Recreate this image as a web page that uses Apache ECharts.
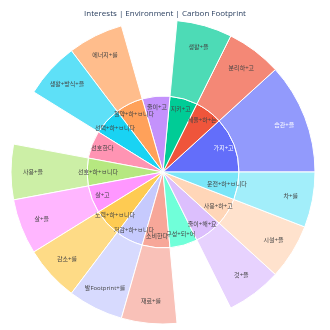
<!DOCTYPE html>
<html><head><meta charset="utf-8">
<script src="https://cdn.jsdelivr.net/npm/echarts@6/dist/echarts.min.js"></script>
<style>html,body{margin:0;padding:0;background:#fff}#c{width:330px;height:330px}</style>
</head><body><div id="c"></div>
<script>
const titleText = 'Interests | Environment | Carbon Footprint';
const innerLabels = ['가지+고','세울+하+는','지키+고','줄이+고','절약+하+ㅂ니다','선택+하+ㅂ니다','선호한다','선호+하+ㅂ니다','살+고','노력+하+ㅂ니다','저감+하+ㅂ니다','소비한다','구성+되+어','줄이+해+요','사용+하+고','운전+하+ㅂ니다'];
const innerValues = [2,1,1,1,1,1,1,1,1,1,1,1,1,1,1,1];
const outerLabels = ['습관+을','분리하+고','생활+을',null,'에너지+를','생활+방식+을',null,'사용+을','살+을','감소+를','발Footprint+를','재료+를',null,'것+을','시설+을','차+를'];
const sliceColors = ['#636efa','#ef553b','#00cc96','#ab63fa','#ffa15a','#19d3f3','#ff6692','#b6e880','#ff97ff','#fecb52','#c6cafd','#f7a799','#33ffc9','#dcbffd','#ffd6b8','#7ae6f8'];
const whiteText = ['가지+고','습관+을'];

function leafMix(hex, a) {
  const n = parseInt(hex.slice(1), 16);
  const c = [(n >> 16) & 255, (n >> 8) & 255, n & 255].map(v => Math.round(v * a + 255 * (1 - a)));
  return 'rgb(' + c.join(',') + ')';
}
const FONT = '"Open Sans", "Noto Sans CJK KR", sans-serif';

function build(forLabels) {
  return innerLabels.map((name, i) => {
    const hasChild = outerLabels[i] != null;
    const col = hasChild ? sliceColors[i] : leafMix(sliceColors[i], 0.7);
    const node = {
      name: name, value: innerValues[i],
      itemStyle: forLabels ? {color: 'rgba(0,0,0,0)', borderWidth: 0} : {color: col},
      label: {color: whiteText.includes(name) ? '#fff' : '#444'}
    };
    if (hasChild) {
      const cn = outerLabels[i];
      node.children = [{
        name: cn, value: innerValues[i],
        itemStyle: forLabels ? {color: 'rgba(0,0,0,0)', borderWidth: 0} : {color: leafMix(sliceColors[i], 0.7)},
        label: {color: whiteText.includes(cn) ? '#fff' : '#444'}
      }];
    }
    return node;
  });
}

const chart = echarts.init(document.getElementById('c'), null, {renderer: 'canvas'});
chart.setOption({
  animation: false,
  title: {text: titleText, left: 'center', top: 5, textStyle: {fontSize: 8, fontWeight: 'normal', color: '#2a3f5f', fontFamily: FONT}},
  series: [
    {
      type: 'sunburst', center: [163, 172], radius: [0, 152], startAngle: 0, clockwise: false, sort: null,
      nodeClick: false, silent: true, emphasis: {disabled: true},
      itemStyle: {borderColor: '#fff', borderWidth: 1},
      label: {show: false},
      levels: [{}, {radius: [0, 76]}, {radius: [76, 152]}],
      data: build(false)
    },
    {
      type: 'sunburst', center: [163, 172], radius: [0, 152], startAngle: 0, clockwise: false, sort: null,
      nodeClick: false, silent: true, emphasis: {disabled: true},
      itemStyle: {borderWidth: 0, color: 'rgba(0,0,0,0)'},
      label: {show: true, rotate: 0, fontSize: 6, fontFamily: FONT, minAngle: 0},
      levels: [{}, {radius: [54, 76]}, {radius: [108, 152]}],
      data: build(true)
    }
  ]
});
</script></body></html>
